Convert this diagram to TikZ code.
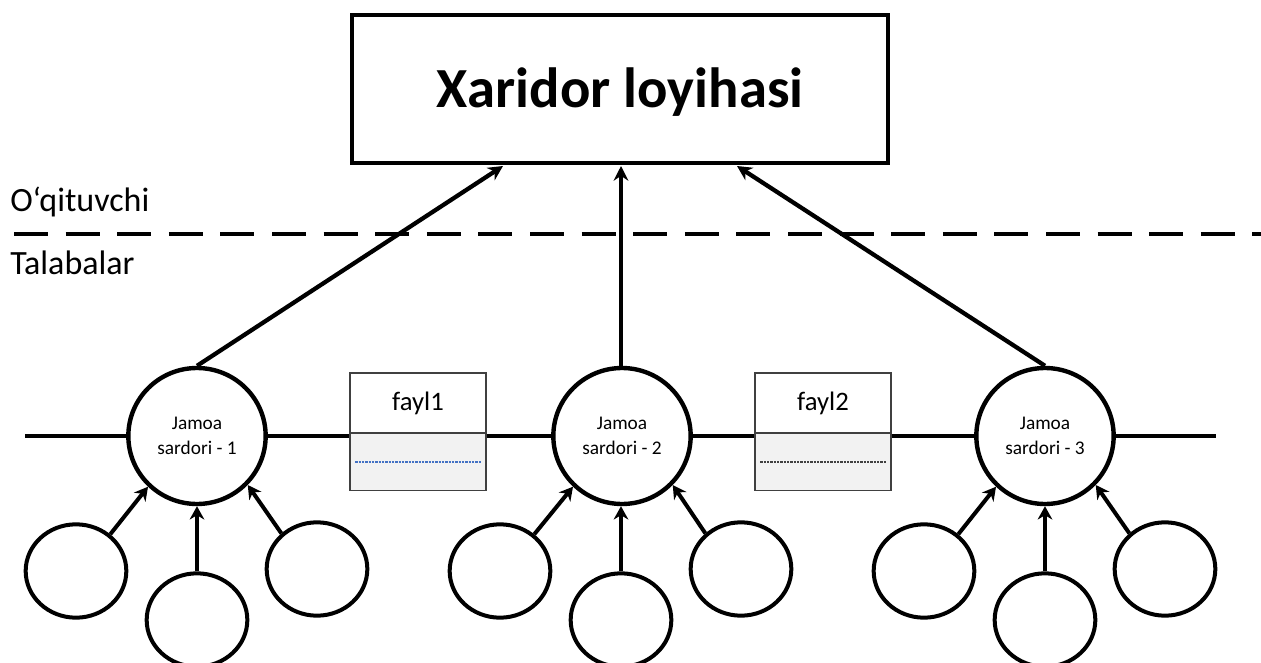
\documentclass[tikz,border=0pt]{standalone}
\usepackage{fontspec}
\setmainfont{Carlito}
\usetikzlibrary{shapes.geometric,arrows.meta}

\tikzset{
  wire/.style={line width=3.2pt},
  arr/.style={line width=3.2pt,-{Stealth[length=11pt,width=11pt]}},
  arrsmall/.style={line width=3pt,-{Stealth[length=10pt,width=11pt]}},
  lead/.style={draw,line width=3.3pt,ellipse,fill=white,inner sep=0pt,minimum width=103pt,minimum height=102pt,align=center,font=\fontsize{14.5}{18.5}\selectfont},
  member/.style={draw,line width=3pt,ellipse,minimum width=75.5pt,minimum height=70pt},
  fileup/.style={draw=black!75,line width=1pt,minimum width=102pt,minimum height=45pt,font=\fontsize{20}{22}\selectfont,inner sep=0pt},
  filelow/.style={draw=black!75,line width=1pt,fill=black!5,minimum width=102pt,minimum height=43pt,inner sep=0pt},
  side/.style={anchor=base west,inner sep=0pt,font=\fontsize{25.5}{28}\selectfont},
}
\definecolor{rowblue}{HTML}{4472C4}

\begin{document}
\begin{tikzpicture}[x=0.75pt,y=-0.75pt]
        \useasboundingbox (0,0) rectangle (1261,663);
        % project box and the two side labels
        \node[draw,line width=3.2pt,minimum width=402pt,minimum height=111pt,inner sep=0pt,text depth=1.5pt,font=\bfseries\fontsize{42.5}{46}\selectfont] (project) at (620,89) {Xaridor loyihasi};
        \node[side] (teacher) at (10,212) {O‘qituvchi};
        \node[side] (students) at (10,275) {Talabalar};
        \coordinate (dashL) at (14,234);
        \coordinate (dashR) at (1261,234);
        \draw[line width=3.2pt,dash pattern=on 25.5pt off 13.2pt] (dashL)--(dashR);
        % team leads
        \node[lead] (lead1) at (197,436) {Jamoa\\sardori - 1};
        \node[lead] (lead2) at (622,436) {Jamoa\\sardori - 2};
        \node[lead] (lead3) at (1045,436) {Jamoa\\sardori - 3};
        % files
        \node[fileup] (file1) at (418,403) {fayl1};
        \node[filelow] (store1) at (418,462) {};
        \node[fileup] (file2) at (823,403) {fayl2};
        \node[filelow] (store2) at (823,462) {};
        \draw[rowblue,line width=0.8pt,dash pattern=on 1.8pt off 0.7pt] ([xshift=4.5pt]store1.west)--([xshift=-4.5pt]store1.east);
        \draw[black!75,line width=0.8pt,dash pattern=on 1.8pt off 0.7pt] ([xshift=4.5pt]store2.west)--([xshift=-4.5pt]store2.east);
        % horizontal line through leads and files
        \coordinate (lineL) at (25,436);
        \coordinate (lineR) at (1216,436);
        \draw[wire] (lineL)--(lead1.west);
        \draw[wire] (lead1.east)--(lead1.east -| store1.west);
        \draw[wire] (lead2.west -| store1.east)--(lead2.west);
        \draw[wire] (lead2.east)--(lead2.east -| store2.west);
        \draw[wire] (lead3.west -| store2.east)--(lead3.west);
        \draw[wire] (lead3.east)--(lineR);
        % leads to project
        \coordinate (in1) at (503,166);
        \coordinate (in2) at (621,166);
        \coordinate (in3) at (737,166);
        \draw[arr] (lead1.north)--(in1);
        \draw[arr] (lead2.north -| in2)--(in2);
        \draw[arr] (lead3.north)--(in3);
        % members of team 1
        \node[member] (m11) at (76,571) {};
        \node[member] (m12) at (197,620) {};
        \node[member] (m13) at (317,569) {};
        \draw[arrsmall] (m11.47)--(lead1.226);
        \draw[arrsmall] (m12.north)--(lead1.south);
        \draw[arrsmall] (m13.135)--(lead1.316);
        % members of team 2
        \node[member] (m21) at (500,571) {};
        \node[member] (m22) at (621,620) {};
        \node[member] (m23) at (741,569) {};
        \draw[arrsmall] (m21.47)--(lead2.226);
        \draw[arrsmall] (m22.north)--(m22.north |- lead2.south);
        \draw[arrsmall] (m23.135)--(lead2.316);
        % members of team 3
        \node[member] (m31) at (924,571) {};
        \node[member] (m32) at (1045,620) {};
        \node[member] (m33) at (1165,569) {};
        \draw[arrsmall] (m31.47)--(lead3.226);
        \draw[arrsmall] (m32.north)--(lead3.south);
        \draw[arrsmall] (m33.135)--(lead3.316);
      \end{tikzpicture}
\end{document}
